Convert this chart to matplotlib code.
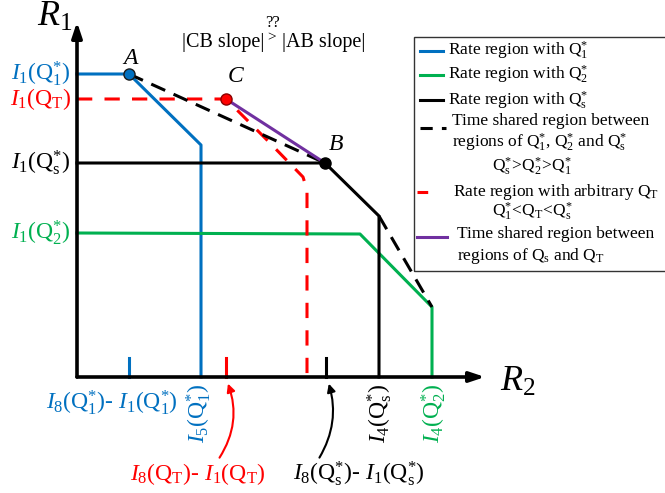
import numpy as np
import matplotlib
matplotlib.use('Agg')
import matplotlib.pyplot as plt
from matplotlib.patches import FancyArrowPatch, Rectangle

plt.rcParams['font.family'] = ['Liberation Serif', 'DejaVu Serif']
plt.rcParams['mathtext.fontset'] = 'custom'
plt.rcParams['mathtext.rm'] = 'Liberation Serif'
plt.rcParams['mathtext.it'] = 'Liberation Serif:italic'

# ========== data (R2 along x, R1 along y)
blue_x = [0, 52, 124, 124]
blue_y = [303, 303, 232, 0]
green_x = [0, 283, 355, 355]
green_y = [144, 143, 70, 0]
black_x = [0, 248, 302, 302]
black_y = [214, 214, 161, 0]
red_x = [0, 149, 190, 226, 230, 230]
red_y = [278, 278, 237, 200, 187, 0]
ts1_x = [52, 248]
ts1_y = [303, 214]
ts2_x = [302, 355]
ts2_y = [161, 70]
purple_x = [149, 248]
purple_y = [278, 214]

pt_A = (52, 303)
pt_B = (248, 214)
pt_C = (149, 278)

tick_x = [52, 149, 249]
tick_c = ['#0070C0', '#FF0000', 'black']

y_labels = [r'$I_1(\mathrm{Q}_1^{*})$', r'$I_1(\mathrm{Q}_\mathrm{T})$',
            r'$I_1(\mathrm{Q}_\mathrm{s}^{*})$', r'$I_1(\mathrm{Q}_2^{*})$']
y_label_pos = [303, 278, 214, 144]
y_label_c = ['#0070C0', '#FF0000', 'black', '#00B050']

BLUE, GREEN, RED, PURPLE = '#0070C0', '#00B050', '#FF0000', '#7030A0'

# ========== plot
fig = plt.figure(figsize=(6.65, 4.93), dpi=100)
ax = fig.add_axes([0, 0, 1, 1])
ax.set_xlim(-77, 588)
ax.set_ylim(-116, 377)
ax.axis('off')

lw = 2.2
ax.plot(blue_x, blue_y, color=BLUE, lw=lw)
ax.plot(green_x, green_y, color=GREEN, lw=lw)
ax.plot(black_x, black_y, color='black', lw=lw)
ax.plot(red_x, red_y, color=RED, lw=lw, dashes=(5, 4))
ax.plot(ts1_x, ts1_y, color='black', lw=lw, dashes=(5, 3))
ax.plot(ts2_x, ts2_y, color='black', lw=lw, dashes=(5, 3))
ax.plot(purple_x, purple_y, color=PURPLE, lw=lw)

for x, c in zip(tick_x, tick_c):
    ax.plot([x, x], [0, 19], color=c, lw=lw)

ax.plot(*pt_A, 'o', ms=8, mfc=BLUE, mec='#1a1a1a', mew=1)
ax.plot(*pt_C, 'o', ms=8, mfc=RED, mec='#8b0000', mew=1)
ax.plot(*pt_B, 'o', ms=8, mfc='black', mec='black')

# axes arrows
ax.annotate('', xy=(0, 355), xytext=(0, 0),
            arrowprops=dict(arrowstyle='-|>,head_length=0.9,head_width=0.3', lw=2.6,
                            color='black', shrinkA=0, shrinkB=0))
ax.annotate('', xy=(408, 0), xytext=(0, 0),
            arrowprops=dict(arrowstyle='-|>,head_length=0.9,head_width=0.3', lw=2.6,
                            color='black', shrinkA=0, shrinkB=0))
ax.text(-5, 360, r'$R_1$', fontsize=26, ha='right', va='center')
ax.text(441, -5, r'$R_2$', fontsize=26, ha='center', va='center')

for lab, y, c in zip(y_labels, y_label_pos, y_label_c):
    ax.text(-6, y, lab, fontsize=17, color=c, ha='right', va='center')

ax.text(54, 319, r'$A$', fontsize=17, ha='center', va='center')
ax.text(159, 300, r'$C$', fontsize=17, ha='center', va='center')
ax.text(259, 232, r'$B$', fontsize=17, ha='center', va='center')

ax.text(187, 334, '|CB slope|', fontsize=14.5, ha='right', va='center')
ax.text(195, 339, '>', fontsize=11, ha='center', va='center')
ax.text(195, 354, '??', fontsize=12, ha='center', va='center')
ax.text(205, 334, '|AB slope|', fontsize=14.5, ha='left', va='center')

# bottom labels
ax.text(35, -26, r'$I_8(\mathrm{Q}_1^{*})$- $I_1(\mathrm{Q}_1^{*})$', fontsize=17,
        color=BLUE, ha='center', va='center')
ax.text(122, -36, r'$I_5(\mathrm{Q}_1^{*})$', fontsize=17, color=BLUE,
        rotation=90, ha='center', va='center')
ax.text(303, -36, r'$I_4(\mathrm{Q}_\mathrm{s}^{*})$', fontsize=17, color='black',
        rotation=90, ha='center', va='center')
ax.text(357, -36, r'$I_4(\mathrm{Q}_2^{*})$', fontsize=17, color=GREEN,
        rotation=90, ha='center', va='center')
ax.text(121, -97, r'$I_8(\mathrm{Q}_\mathrm{T})$- $I_1(\mathrm{Q}_\mathrm{T})$', fontsize=17,
        color=RED, ha='center', va='center')
ax.text(282, -97, r'$I_8(\mathrm{Q}_\mathrm{s}^{*})$- $I_1(\mathrm{Q}_\mathrm{s}^{*})$',
        fontsize=17, color='black', ha='center', va='center')

ax.add_patch(FancyArrowPatch((141, -83), (150, -4), connectionstyle='arc3,rad=0.26',
                             arrowstyle='-|>', mutation_scale=12, color=RED, lw=1.5))
ax.add_patch(FancyArrowPatch((241, -83), (251, -4), connectionstyle='arc3,rad=0.23',
                             arrowstyle='-|>', mutation_scale=12, color='black', lw=1.5))

# legend drawn by hand (pixel coords -> data)
def P(x, y):
    return x - 77, 377 - y

x0, y0 = P(414, 271)
ax.add_patch(Rectangle((x0, y0), 300, 234, fill=False, ec='#333333', lw=1))
fs = 12.5
ax.plot(*zip(P(420, 51), P(443, 51)), color=BLUE, lw=lw)
ax.text(*P(448, 51), r'Rate region with $\mathrm{Q}_1^{*}$', fontsize=fs, va='center')
ax.plot(*zip(P(420, 75), P(443, 75)), color=GREEN, lw=lw)
ax.text(*P(448, 75), r'Rate region with $\mathrm{Q}_2^{*}$', fontsize=fs, va='center')
ax.plot(*zip(P(420, 100), P(443, 100)), color='black', lw=lw)
ax.text(*P(448, 100), r'Rate region with $\mathrm{Q}_\mathrm{s}^{*}$', fontsize=fs, va='center')
ax.plot(*zip(P(420, 128), P(446, 128)), color='black', lw=lw, dashes=(4, 3))
ax.text(*P(452, 121), 'Time shared region between', fontsize=fs, va='center')
ax.text(*P(452, 143), r'regions of $\mathrm{Q}_1^{*}$, $\mathrm{Q}_2^{*}$ and $\mathrm{Q}_\mathrm{s}^{*}$',
        fontsize=fs, va='center')
ax.text(*P(492, 167), r'$\mathrm{Q}_\mathrm{s}^{*}\!>\!\mathrm{Q}_2^{*}\!>\!\mathrm{Q}_1^{*}$',
        fontsize=fs, va='center')
ax.plot(*zip(P(417, 192), P(446, 192)), color=RED, lw=lw, dashes=(3.5, 6.5))
ax.text(*P(453, 192), r'Rate region with arbitrary $\mathrm{Q}_\mathrm{T}$', fontsize=fs, va='center')
ax.text(*P(492, 212), r'$\mathrm{Q}_1^{*}\!<\!\mathrm{Q}_\mathrm{T}\!<\!\mathrm{Q}_\mathrm{s}^{*}$',
        fontsize=fs, va='center')
ax.plot(*zip(P(417, 237), P(447, 237)), color=PURPLE, lw=lw)
ax.text(*P(457, 234), 'Time shared region between', fontsize=fs, va='center')
ax.text(*P(457, 256), r'regions of $\mathrm{Q}_\mathrm{s}$ and $\mathrm{Q}_\mathrm{T}$',
        fontsize=fs, va='center')

fig.savefig('out.png', dpi=100)
